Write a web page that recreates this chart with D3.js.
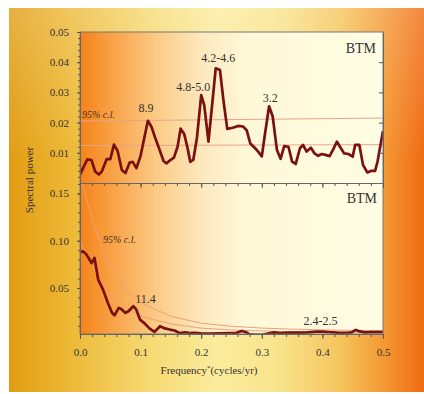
<!DOCTYPE html>
<html>
<head>
<meta charset="utf-8">
<script src="https://cdn.jsdelivr.net/npm/d3@7"></script>
<style>
  html, body { margin: 0; padding: 0; background: #fff; }
  svg { display: block; font-family: "Liberation Serif", "Times New Roman", serif; }
</style>
</head>
<body>
<div id="chart"></div>
<script>
// top panel: BTM spectrum (frequency, power)
const topFreq = [0.000, 0.012, 0.019, 0.025, 0.031, 0.036, 0.044, 0.050, 0.056, 0.062,
  0.069, 0.075, 0.082, 0.087, 0.093, 0.100, 0.112, 0.118, 0.124, 0.131,
  0.138, 0.143, 0.149, 0.155, 0.161, 0.166, 0.172, 0.177, 0.182, 0.187,
  0.193, 0.200, 0.205, 0.212, 0.218, 0.224, 0.231, 0.237, 0.243, 0.252,
  0.261, 0.269, 0.275, 0.281, 0.289, 0.294, 0.300, 0.305, 0.312, 0.318,
  0.325, 0.331, 0.337, 0.344, 0.350, 0.356, 0.363, 0.368, 0.374, 0.381,
  0.387, 0.393, 0.399, 0.405, 0.412, 0.418, 0.424, 0.429, 0.436, 0.443,
  0.450, 0.454, 0.461, 0.467, 0.474, 0.480, 0.487, 0.491, 0.500];
const topPower = [0.0028, 0.0078, 0.0076, 0.0038, 0.0028, 0.0038, 0.0079, 0.0079, 0.0127, 0.0107,
  0.0043, 0.0033, 0.0068, 0.0070, 0.0049, 0.0090, 0.0206, 0.0186, 0.0150, 0.0112,
  0.0072, 0.0065, 0.0076, 0.0084, 0.0120, 0.0180, 0.0162, 0.0120, 0.0070, 0.0077,
  0.0150, 0.0291, 0.0258, 0.0137, 0.0258, 0.0380, 0.0374, 0.0269, 0.0179, 0.0183,
  0.0189, 0.0187, 0.0175, 0.0131, 0.0115, 0.0104, 0.0088, 0.0159, 0.0254, 0.0220,
  0.0109, 0.0080, 0.0122, 0.0120, 0.0071, 0.0063, 0.0115, 0.0126, 0.0104, 0.0117,
  0.0098, 0.0090, 0.0096, 0.0093, 0.0089, 0.0112, 0.0137, 0.0120, 0.0098, 0.0096,
  0.0087, 0.0126, 0.0126, 0.0060, 0.0035, 0.0040, 0.0040, 0.0071, 0.0172];
const topCLFreq = [0.0, 0.5];
const topCL95 = [0.0205, 0.0215];
const topCLMean = [0.0124, 0.0127];

// bottom panel
const botFreq = [0.000, 0.005, 0.010, 0.019, 0.024, 0.030, 0.038, 0.046, 0.053, 0.057,
  0.064, 0.068, 0.075, 0.080, 0.088, 0.093, 0.099, 0.107, 0.115, 0.123,
  0.132, 0.140, 0.148, 0.156, 0.165, 0.173, 0.181, 0.189, 0.200, 0.215,
  0.230, 0.245, 0.258, 0.267, 0.274, 0.280, 0.290, 0.300, 0.310, 0.320,
  0.330, 0.345, 0.360, 0.375, 0.390, 0.400, 0.410, 0.425, 0.440, 0.448,
  0.455, 0.462, 0.470, 0.480, 0.490, 0.500];
const botPower = [0.0877, 0.0888, 0.0860, 0.0764, 0.0817, 0.0588, 0.0482, 0.0341, 0.0236, 0.0211,
  0.0289, 0.0278, 0.0236, 0.0254, 0.0307, 0.0270, 0.0165, 0.0123, 0.0070, 0.0035,
  0.0095, 0.0072, 0.0060, 0.0050, 0.0022, 0.0032, 0.0022, 0.0024, 0.0020, 0.0018,
  0.0020, 0.0022, 0.0025, 0.0045, 0.0032, 0.0008, 0.0005, 0.0005, 0.0018, 0.0030,
  0.0022, 0.0027, 0.0027, 0.0030, 0.0038, 0.0038, 0.0034, 0.0027, 0.0026, 0.0030,
  0.0056, 0.0040, 0.0030, 0.0032, 0.0033, 0.0034];
const botCLFreq = [0.000, 0.010, 0.020, 0.033, 0.050, 0.077, 0.100, 0.115, 0.150, 0.200,
  0.250, 0.300, 0.350, 0.400, 0.450, 0.500];
const botCL95 = [0.170, 0.146, 0.124, 0.099, 0.072, 0.048, 0.035, 0.030, 0.020, 0.0127,
  0.0095, 0.0076, 0.0064, 0.0057, 0.0052, 0.0049];
const botCLMean = [0.100, 0.086, 0.073, 0.058, 0.042, 0.028, 0.0205, 0.0175, 0.012, 0.0075,
  0.0056, 0.0045, 0.0038, 0.0034, 0.0031, 0.0029];

const xTicks = [0, 0.1, 0.2, 0.3, 0.4, 0.5];
const topTicks = [0.01, 0.02, 0.03, 0.04, 0.05];
const botTicks = [0.05, 0.10, 0.15];

const topNotes = [
  { f: 0.109, p: 0.0235, t: '8.9' },
  { f: 0.187, p: 0.0305, t: '4.8-5.0' },
  { f: 0.228, p: 0.040, t: '4.2-4.6' },
  { f: 0.314, p: 0.0268, t: '3.2' }
];
const botNotes = [
  { f: 0.108, p: 0.034, t: '11.4' },
  { f: 0.397, p: 0.0107, t: '2.4-2.5' }
];

const W = 424, H = 394;
const L = 80, R = 383, T = 32, MID = 183, B = 334;

const svg = d3.select('#chart').append('svg')
  .attr('width', W).attr('height', H);
const defs = svg.append('defs');

const outerG = defs.append('linearGradient').attr('id', 'outerG');
[[0, '#e29c12'], [0.15, '#edb937'], [0.35, '#f7db76'], [0.5, '#fbec9d'],
 [0.65, '#f9e48c'], [0.8, '#f6c45c'], [0.9, '#f49a35'], [1, '#f06a12']]
  .forEach(s => outerG.append('stop').attr('offset', s[0]).attr('stop-color', s[1]));

const vG = defs.append('linearGradient').attr('id', 'vG')
  .attr('x1', 0).attr('y1', 0).attr('x2', 0).attr('y2', 1);
vG.append('stop').attr('offset', 0).attr('stop-color', '#fff').attr('stop-opacity', 0.2);
vG.append('stop').attr('offset', 0.4).attr('stop-color', '#fff').attr('stop-opacity', 0);

const plotG = defs.append('linearGradient').attr('id', 'plotG');
[[0, '#f5821a'], [0.1, '#f8a043'], [0.25, '#fbca85'], [0.4, '#fde8bd'],
 [0.55, '#fff8d8'], [1, '#fffde4']]
  .forEach(s => plotG.append('stop').attr('offset', s[0]).attr('stop-color', s[1]));

defs.append('clipPath').attr('id', 'clipTop').append('rect')
  .attr('x', L).attr('y', T).attr('width', R - L).attr('height', MID - T);
defs.append('clipPath').attr('id', 'clipBot').append('rect')
  .attr('x', L).attr('y', MID).attr('width', R - L).attr('height', B - MID);

svg.append('rect').attr('x', 9).attr('y', 8).attr('width', W - 9).attr('height', H - 10)
  .attr('fill', 'url(#outerG)');
svg.append('rect').attr('x', 9).attr('y', 8).attr('width', W - 9).attr('height', H - 10)
  .attr('fill', 'url(#vG)');
svg.append('rect').attr('x', L).attr('y', T).attr('width', R - L).attr('height', B - T)
  .attr('fill', 'url(#plotG)');

const x = d3.scaleLinear().domain([0, 0.5]).range([L, R]);
const yTop = d3.scaleLinear().domain([0, 0.05]).range([MID, T]);
const yBot = d3.scaleLinear().domain([0.0013, 0.161]).range([B, MID]);

function drawPanel(clip, y, fr, vals, color, width) {
  const line = d3.line().x((d, i) => x(fr[i])).y(d => y(d));
  svg.append('path').datum(vals)
    .attr('clip-path', `url(#${clip})`)
    .attr('d', line)
    .attr('fill', 'none')
    .attr('stroke', color)
    .attr('stroke-width', width)
    .attr('stroke-linejoin', 'round');
}

drawPanel('clipTop', yTop, topCLFreq, topCL95, '#e9a48a', 1);
drawPanel('clipTop', yTop, topCLFreq, topCLMean, '#e9a48a', 1);
drawPanel('clipBot', yBot, botCLFreq, botCL95, '#eba07c', 1);
drawPanel('clipBot', yBot, botCLFreq, botCLMean, '#eba07c', 1);
drawPanel('clipTop', yTop, topFreq, topPower, '#7b1010', 2.7);
drawPanel('clipBot', yBot, botFreq, botPower, '#7b1010', 2.7);

// frame
svg.append('rect').attr('x', L).attr('y', T).attr('width', R - L).attr('height', B - T)
  .attr('fill', 'none').attr('stroke', '#777').attr('stroke-width', 1);

function styleAxis(g) {
  g.selectAll('.domain').attr('stroke', '#666');
  g.selectAll('.tick line').attr('stroke', '#555');
  g.selectAll('.tick text').attr('fill', '#333')
    .style('font-family', '"Liberation Serif", serif').style('font-size', '11px');
}

const minorX = d3.range(0, 0.5001, 0.02);

// middle divider ticks (pointing down into lower panel)
svg.append('g').attr('transform', `translate(0,${MID})`)
  .call(d3.axisBottom(x).tickValues(minorX).tickSize(3).tickSizeOuter(0).tickFormat(''))
  .call(styleAxis);
svg.append('g').attr('transform', `translate(0,${MID})`)
  .call(d3.axisBottom(x).tickValues(xTicks).tickSize(5).tickSizeOuter(0).tickFormat(''))
  .call(styleAxis);

// bottom axis
svg.append('g').attr('transform', `translate(0,${B})`)
  .call(d3.axisBottom(x).tickValues(minorX).tickSize(3).tickSizeOuter(0).tickFormat(''))
  .call(styleAxis);
svg.append('g').attr('transform', `translate(0,${B})`)
  .call(d3.axisBottom(x).tickValues(xTicks).tickSize(5).tickPadding(9).tickSizeOuter(0)
    .tickFormat(d3.format('.1f')))
  .call(styleAxis);

// left axes
svg.append('g').attr('transform', `translate(${L},0)`)
  .call(d3.axisLeft(yTop).tickValues(d3.range(0.002, 0.0501, 0.002)).tickSize(2)
    .tickSizeOuter(0).tickFormat(''))
  .call(styleAxis);
svg.append('g').attr('transform', `translate(${L},0)`)
  .call(d3.axisLeft(yTop).tickValues(topTicks).tickSize(3).tickPadding(8).tickSizeOuter(0)
    .tickFormat(d3.format('.2f')))
  .call(styleAxis);
svg.append('g').attr('transform', `translate(${L},0)`)
  .call(d3.axisLeft(yBot).tickValues(d3.range(0.01, 0.1601, 0.01)).tickSize(2)
    .tickSizeOuter(0).tickFormat(''))
  .call(styleAxis);
svg.append('g').attr('transform', `translate(${L},0)`)
  .call(d3.axisLeft(yBot).tickValues(botTicks).tickSize(3).tickPadding(8).tickSizeOuter(0)
    .tickFormat(d3.format('.2f')))
  .call(styleAxis);

// right side inward ticks, top panel
svg.append('g').attr('transform', `translate(${R},0)`)
  .call(d3.axisLeft(yTop).tickValues(topTicks.slice(0, 4)).tickSize(4).tickSizeOuter(0)
    .tickFormat(''))
  .call(styleAxis);

// annotations
const txt = '#333';
svg.append('text').attr('x', 376).attr('y', 53).attr('text-anchor', 'end')
  .attr('font-size', 14).attr('fill', txt).text('BTM');
svg.append('text').attr('x', 377).attr('y', 203).attr('text-anchor', 'end')
  .attr('font-size', 14).attr('fill', txt).text('BTM');

svg.append('text').attr('x', 82).attr('y', 118).attr('font-size', 10)
  .attr('font-style', 'italic').attr('fill', '#4a3020').text('95% c.l.');
svg.append('text').attr('x', 103).attr('y', 243).attr('font-size', 10)
  .attr('font-style', 'italic').attr('fill', '#4a3020').text('95% c.l.');

svg.selectAll('.topNote').data(topNotes).enter().append('text')
  .attr('x', d => x(d.f)).attr('y', d => yTop(d.p))
  .attr('text-anchor', 'middle').attr('font-size', 12).attr('fill', txt)
  .text(d => d.t);
svg.selectAll('.botNote').data(botNotes).enter().append('text')
  .attr('x', d => x(d.f)).attr('y', d => yBot(d.p))
  .attr('text-anchor', 'middle').attr('font-size', 12).attr('fill', txt)
  .text(d => d.t);

// axis titles
svg.append('text').attr('transform', 'translate(33,180) rotate(-90)')
  .attr('text-anchor', 'middle').attr('font-size', 11).attr('fill', txt)
  .text('Spectral power');
const xl = svg.append('text').attr('x', 209).attr('y', 374)
  .attr('text-anchor', 'middle').attr('font-size', 11).attr('fill', txt);
xl.append('tspan').text('Frequency');
xl.append('tspan').attr('font-size', 7).attr('dy', -4).text('*');
xl.append('tspan').attr('dy', 4).text('(cycles/yr)');
</script>
</body>
</html>
